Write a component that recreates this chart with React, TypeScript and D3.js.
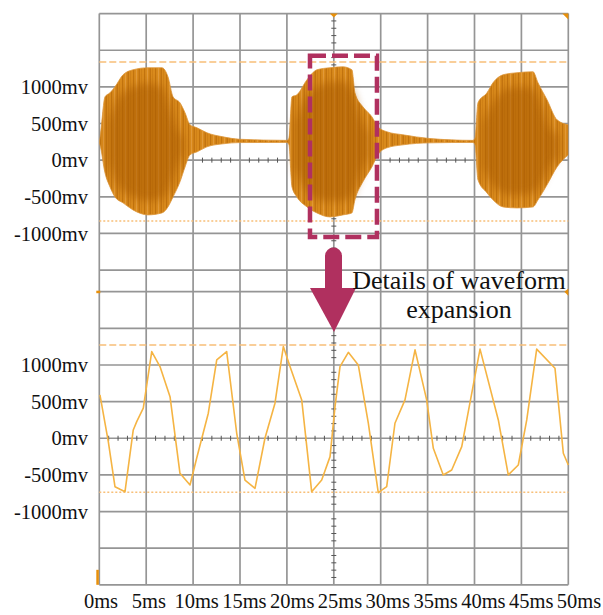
import React from "react";
import * as d3 from "d3";

// ---- Data ----
const xTickValues = [0, 5, 10, 15, 20, 25, 30, 35, 40, 45, 50];
const xTickLabels = ["0ms", "5ms", "10ms", "15ms", "20ms", "25ms", "30ms", "35ms", "40ms", "45ms", "50ms"];
const yTickValues = [1000, 500, 0, -500, -1000];
const yTickLabels = ["1000mv", "500mv", "0mv", "-500mv", "-1000mv"];

// Top panel: burst envelope (ms, mV)
const envT = [0, 0.07, 0.61, 1.14, 1.67, 2.53, 3.59, 5.19, 6.68, 7.32, 7.86, 8.6, 9.14, 9.67, 10.42, 11.48, 13.19, 15.0, 20.0, 20.22, 20.54, 21.07, 22.14, 23.2, 24.59, 25.97, 26.93, 27.25, 28.1, 29.06, 29.7, 30.66, 32.37, 35.25, 39.84, 40.05, 40.37, 41.33, 41.97, 43.04, 44.53, 46.24, 46.77, 47.73, 48.8, 50];
const envHi = [260, 305, 865, 919, 1001, 1165, 1233, 1261, 1261, 1138, 865, 783, 646, 482, 441, 373, 318, 285, 270, 300, 865, 892, 1097, 1233, 1261, 1274, 1233, 919, 728, 592, 455, 387, 346, 295, 270, 300, 783, 919, 1056, 1165, 1193, 1206, 1056, 824, 550, 482];
const envLo = [230, 208, -174, -365, -502, -583, -679, -747, -720, -638, -502, -296, -92, 72, 113, 182, 223, 240, 242, 210, -365, -502, -638, -720, -775, -747, -720, -542, -296, -92, 72, 168, 209, 236, 242, 210, -269, -447, -542, -638, -652, -638, -542, -337, -92, 72];

// darker core of each burst (null = gap)
const coreT = [0.9, 2.0, 3.5, 5.2, 6.7, 7.5, 8.3, 9.0, 15, 20.8, 22.0, 24.0, 26.0, 27.0, 28.0, 28.8, 35, 40.8, 42.0, 44.0, 46.0, 47.0, 48.0, 49.0];
const coreHi = [500, 850, 1000, 1050, 1000, 750, 450, 300, null, 500, 850, 1050, 1080, 950, 550, 350, null, 500, 800, 1000, 1000, 800, 450, 350];
const coreLo = [0, -350, -500, -560, -520, -380, -100, 100, null, -100, -400, -560, -560, -480, -150, 50, null, -80, -350, -480, -460, -350, -100, 50];

// Bottom panel: expanded waveform (ms, mV)
const waveT = [0.07, 0.96, 1.67, 2.21, 2.74, 3.62, 3.99, 4.69, 5.59, 6.47, 7.54, 8.6, 9.67, 10.38, 11.62, 12.52, 13.58, 14.65, 15.53, 16.6, 17.66, 18.73, 19.62, 20.33, 21.58, 22.64, 23.71, 24.6, 25.13, 25.66, 26.55, 27.61, 28.68, 29.74, 30.64, 31.52, 32.59, 33.66, 34.9, 35.61, 36.67, 37.57, 38.64, 40.59, 42.54, 43.6, 44.67, 45.57, 46.63, 48.58, 49.47, 50.0];
const waveMv = [592, -46, -661, -697, -729, 113, 227, 410, 1183, 978, 568, -478, -638, -273, 342, 1070, 1183, 68, -570, -683, 0, 478, 1251, 978, 523, -729, -570, -251, 432, 978, 1172, 1001, 205, -743, -661, 205, 523, 1206, 523, -137, -501, -433, -115, 1216, 250, -501, -365, 250, 1216, 956, -205, -365];

// cursors (mV)
const topCursors = [1339, -829];
const botCursors = [1274, -738];

// highlighted window in top panel
const highlightT = [22.46, 29.6];
const highlightMv = [1425, -1050];

const annotationLines = ["Details of waveform", "expansion"];

// ---- Layout ----
const W = 603, H = 615;
const x = d3.scaleLinear().domain([0, 50]).range([99.3, 568.3]);
const xLab = d3.scaleLinear().domain([0, 50]).range([101, 579]);
const yTop = d3.scaleLinear().domain([-2000, 2000]).range([306.7, 13.6]);
const yBot = d3.scaleLinear().domain([-2000, 2000]).range([584.8, 291.7]);
const FONT = "Liberation Serif, Tinos, Times New Roman, DejaVu Serif, serif";
const GRID = "#8a8a8a";
const ACCENT = "#b0305f";

export default function App() {
  const env = envT.map((t, i) => ({ t, hi: envHi[i], lo: envLo[i] }));
  const core = coreT.map((t, i) => ({ t, hi: coreHi[i], lo: coreLo[i] }));
  const areaTop = d3
    .area<any>()
    .defined((d) => d.hi != null)
    .x((d) => x(d.t))
    .y0((d) => yTop(d.lo))
    .y1((d) => yTop(d.hi))
    .curve(d3.curveMonotoneX);
  const wave = waveT.map((t, i) => ({ t, v: waveMv[i] }));
  const line = d3
    .line<any>()
    .x((d) => x(d.t))
    .y((d) => yBot(d.v));

  const x0 = x(0), x1 = x(50);
  const topGridY = d3.range(2000, -2000, -500).map((v) => yTop(v)).filter((y) => y < yBot(2000));
  const botGridY = d3.range(2000, -2001, -500).map((v) => yBot(v));
  const cx = x(25);

  // minor ticks
  const minorX = d3.range(0, 50.01, 1).filter((t) => t % 5 !== 0).map((t) => x(t));
  const minorYTop = d3.range(2000, -2000, -100).filter((v) => v % 500 !== 0).map((v) => yTop(v)).filter((y) => y < yBot(2000));
  const minorYBot = d3.range(2000, -2001, -100).filter((v) => v % 500 !== 0).map((v) => yBot(v));

  const hx0 = x(highlightT[0]), hx1 = x(highlightT[1]);
  const hy0 = yTop(highlightMv[0]), hy1 = yTop(highlightMv[1]);

  return (
    <svg width={W} height={H} style={{ position: "absolute", left: 0, top: 0, background: "#fff" }}>
      <defs>
        <clipPath id="topclip">
          <rect x={x0} y={yTop(2000)} width={x1 - x0} height={yBot(2000) - yTop(2000)} />
        </clipPath>
        <pattern id="streaks" patternUnits="userSpaceOnUse" width={11} height={40}>
          <rect x={0} y={0} width={11} height={40} fill="#d98a1c" />
          <rect x={1} y={0} width={1.2} height={40} fill="#b86a08" opacity={0.7} />
          <rect x={4} y={0} width={0.8} height={40} fill="#e7a24a" opacity={0.8} />
          <rect x={6.5} y={0} width={1.5} height={40} fill="#b06206" opacity={0.55} />
          <rect x={9.3} y={0} width={0.7} height={40} fill="#c47510" opacity={0.7} />
        </pattern>
        <filter id="soft" x="-10%" y="-10%" width="120%" height="120%">
          <feGaussianBlur stdDeviation={4} />
        </filter>
      </defs>
      <rect x={0} y={0} width={W} height={H} fill="#fff" />
      {/* grid */}
      <g stroke={GRID} strokeWidth={1.7} opacity={0.9}>
        {xTickValues.map((t) => (
          <line key={"v" + t} x1={x(t)} x2={x(t)} y1={yTop(2000)} y2={yBot(-2000)} />
        ))}
        {topGridY.map((y, i) => (
          <line key={"ht" + i} x1={x0} x2={x1} y1={y} y2={y} />
        ))}
        {botGridY.map((y, i) => (
          <line key={"hb" + i} x1={x0} x2={x1} y1={y} y2={y} />
        ))}
      </g>
      {/* minor ticks on centre lines */}
      <g stroke="#555" strokeWidth={1}>
        {minorX.map((xx, i) => (
          <g key={"mx" + i}>
            <line x1={xx} x2={xx} y1={yTop(0) - 2.5} y2={yTop(0) + 2.5} />
            <line x1={xx} x2={xx} y1={yBot(0) - 2.5} y2={yBot(0) + 2.5} />
          </g>
        ))}
        {minorYTop.concat(minorYBot).map((yy, i) => (
          <line key={"my" + i} x1={cx - 2.5} x2={cx + 2.5} y1={yy} y2={yy} />
        ))}
      </g>
      {/* cursors */}
      <g stroke="#f8bf78" strokeWidth={1.5} fill="none">
        <line x1={x0} x2={x1} y1={yTop(topCursors[0])} y2={yTop(topCursors[0])} strokeDasharray="7,3" />
        <line x1={x0} x2={x1} y1={yTop(topCursors[1])} y2={yTop(topCursors[1])} strokeDasharray="2,2" />
        <line x1={x0} x2={x1} y1={yBot(botCursors[0])} y2={yBot(botCursors[0])} strokeDasharray="7,3" />
        <line x1={x0} x2={x1} y1={yBot(botCursors[1])} y2={yBot(botCursors[1])} strokeDasharray="2,2" />
      </g>
      {/* top burst waveform */}
      <g clipPath="url(#topclip)">
        <path d={areaTop(env) || ""} fill="url(#streaks)" stroke="#dd9538" strokeWidth={0.8} />
        <path d={areaTop(core) || ""} fill="#a85a00" opacity={0.55} filter="url(#soft)" />
      </g>
      {/* bottom expanded waveform */}
      <path d={line(wave) || ""} fill="none" stroke="#f5b443" strokeWidth={1.6} strokeLinejoin="round" />
      {/* markers */}
      <g fill="#e8900a">
        <path d={`M${cx - 4},${yTop(2000)} L${cx + 4},${yTop(2000)} L${cx},${yTop(2000) + 4} Z`} />
        <path d={`M${x1 - 6},${yTop(2000)} L${x1},${yTop(2000)} L${x1},${yTop(2000) + 6} Z`} />
        <path d={`M${x1},${yBot(2000) - 3} L${x1},${yBot(2000) + 4} L${x1 - 4},${yBot(2000)} Z`} />
        <rect x={x0 - 3} y={yBot(2000) - 1} width={4} height={2.5} />
        <rect x={x0 - 3} y={yBot(-2000) - 15} width={2.5} height={15} />
      </g>
      {/* highlight box */}
      <rect x={hx0} y={hy0} width={hx1 - hx0} height={hy1 - hy0} fill="none" stroke={ACCENT} strokeWidth={4.5} strokeDasharray="16,6" />
      {/* arrow */}
      <line x1={333.5} x2={333.5} y1={256} y2={292} stroke={ACCENT} strokeWidth={17} strokeLinecap="round" />
      <path d="M310,288 L356,288 L334,332 Z" fill={ACCENT} />
      {/* annotation */}
      <g style={{ fontFamily: FONT }} fontSize={26} fill="#111" textAnchor="middle">
        <text x={459} y={289}>{annotationLines[0]}</text>
        <text x={459} y={318}>{annotationLines[1]}</text>
      </g>
      {/* y labels */}
      <g style={{ fontFamily: FONT }} fontSize={20.5} fill="#111" textAnchor="end">
        {yTickValues.map((v, i) => (
          <text key={"yt" + i} x={88} y={yTop(v)} dy="0.35em">{yTickLabels[i]}</text>
        ))}
        {yTickValues.map((v, i) => (
          <text key={"yb" + i} x={88} y={yBot(v)} dy="0.35em">{yTickLabels[i]}</text>
        ))}
      </g>
      {/* x labels */}
      <g style={{ fontFamily: FONT }} fontSize={20.5} fill="#111" textAnchor="middle">
        {xTickValues.map((t, i) => (
          <text key={"xl" + i} x={xLab(t)} y={608}>{xTickLabels[i]}</text>
        ))}
      </g>
    </svg>
  );
}
